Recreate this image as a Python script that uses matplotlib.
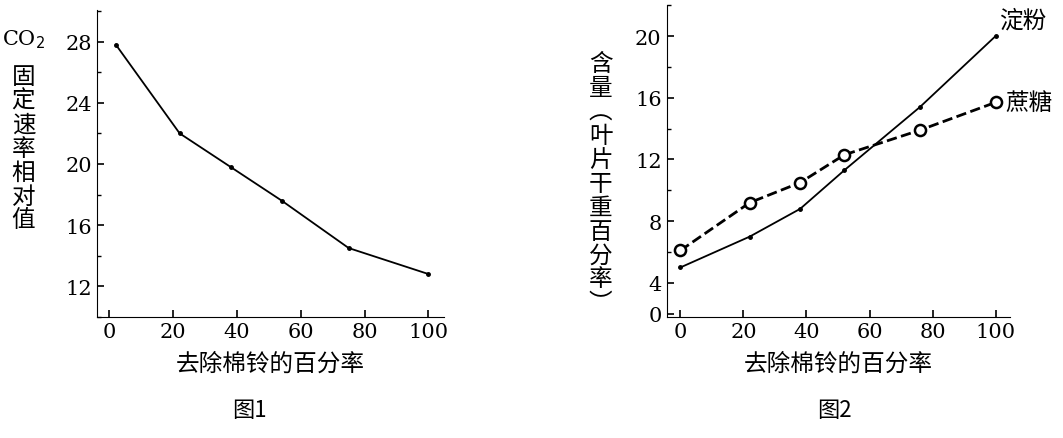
import matplotlib.pyplot as plt
from matplotlib.ticker import MultipleLocator

plt.rcParams['font.family'] = ['Noto Sans CJK SC', 'DejaVu Sans']

# ---- data ----
x1 = [2, 22, 38, 54, 75, 100]
co2 = [27.8, 22.0, 19.8, 17.6, 14.5, 12.8]

x2 = [0, 22, 38, 52, 76, 100]
starch = [5.0, 7.0, 8.8, 11.3, 15.4, 20.0]
sucrose = [6.1, 9.2, 10.5, 12.3, 13.9, 15.7]

xticks = [0, 20, 40, 60, 80, 100]
serif = 'DejaVu Serif'

fig = plt.figure(figsize=(10.63, 4.39), dpi=100)
ax1 = fig.add_axes([0.091, 0.276, 0.327, 0.70])
ax2 = fig.add_axes([0.627, 0.276, 0.323, 0.71])

for ax in (ax1, ax2):
    for s in ('top', 'right'):
        ax.spines[s].set_visible(False)
    ax.tick_params(direction='in', length=5, width=1.2, labelsize=15)
    ax.tick_params(axis='y', which='minor', direction='in', length=3, width=1)
    ax.set_xticks(xticks)
    for lab in ax.get_xticklabels() + ax.get_yticklabels():
        lab.set_fontfamily(serif)
    ax.set_xlabel('去除棉铃的百分率', fontsize=17, labelpad=8)

ax1.plot(x1, co2, color='black', lw=1.3, marker='o', ms=2.5)
ax1.set_xlim(-4, 105)
ax1.set_ylim(10, 30.1)
ax1.set_yticks([12, 16, 20, 24, 28])
ax1.yaxis.set_minor_locator(MultipleLocator(2))
for lab in ax1.get_yticklabels():
    lab.set_fontfamily(serif)
fig.text(0.022, 0.91, 'CO$_2$', fontsize=15, ha='center', va='center', family=serif)
fig.text(0.022, 0.66, '固\n定\n速\n率\n相\n对\n值', fontsize=17, ha='center',
         va='center', linespacing=1.05)
fig.text(0.235, 0.05, '图1', fontsize=16, ha='center')

ax2.plot(x2, starch, color='black', lw=1.3, marker='o', ms=2.5)
ax2.plot(x2, sucrose, color='black', lw=2, ls='--', marker='o', ms=8,
         mfc='white', mew=1.8)
ax2.set_xlim(-4.4, 104.5)
ax2.set_ylim(1.8, 22)
ax2.set_yticks([2.0, 4, 8, 12, 16, 20])
ax2.set_yticklabels(['0', '4', '8', '12', '16', '20'])
ax2.yaxis.set_minor_locator(MultipleLocator(2))
for lab in ax2.get_yticklabels():
    lab.set_fontfamily(serif)
ax2.text(101, 20.6, '淀粉', fontsize=17)
ax2.text(103, 15.7, '蔗糖', fontsize=17, va='center')
fig.text(0.565, 0.58, '含\n量\n︵\n叶\n片\n干\n重\n百\n分\n率\n︶', fontsize=17,
         ha='center', va='center', linespacing=1.05)
fig.text(0.785, 0.05, '图2', fontsize=16, ha='center')

fig.savefig('out.png', dpi=100)
